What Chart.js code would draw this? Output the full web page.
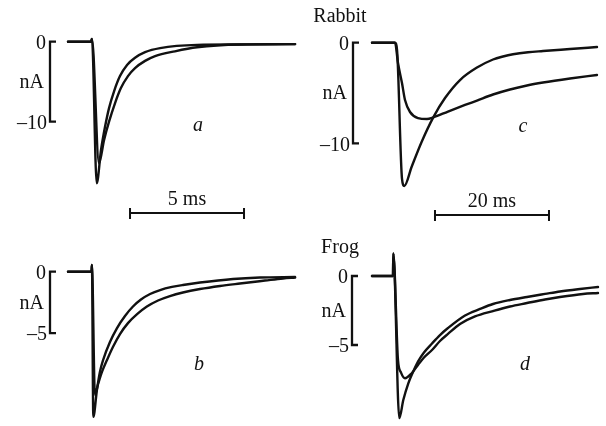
<!DOCTYPE html>
<html><head><meta charset="utf-8">
<script src="https://cdn.jsdelivr.net/npm/chart.js@4/dist/chart.umd.min.js"></script>
<style>
html,body{margin:0;padding:0;background:#fff;width:606px;height:426px;overflow:hidden}
canvas{position:absolute;left:0;top:0}
</style></head>
<body>
<canvas id="pa" width="606" height="426"></canvas>
<canvas id="pb" width="606" height="426"></canvas>
<canvas id="pc" width="606" height="426"></canvas>
<canvas id="pd" width="606" height="426"></canvas>
<script>
// ---- data (time in ms, current in nA) ----
const aFastT = [0, 1.01, 1.05, 1.26, 1.45, 1.62, 1.80, 2.02, 2.28, 2.59, 2.94, 3.38, 4.04, 5.66, 7.54, 9.96];
const aFastI = [0, 0, 0.34, -17.7, -13.5, -10.7, -8.3, -6.2, -4.3, -2.9, -2.0, -1.3, -0.8, -0.4, -0.35, -0.3];
const aSlowT = [0, 1.01, 1.05, 1.36, 1.58, 1.80, 2.06, 2.32, 2.63, 2.94, 3.38, 3.82, 4.69, 5.66, 7.54, 9.96];
const aSlowI = [0, 0, 0.34, -15.2, -12.3, -10.0, -7.7, -5.8, -4.3, -3.3, -2.4, -1.8, -1.2, -0.7, -0.35, -0.3];

const bFastT = [0, 1.03, 1.05, 1.11, 1.27, 1.40, 1.54, 1.84, 2.15, 2.50, 2.85, 3.20, 3.60, 4.04, 4.56, 5.04, 5.79, 7.24, 8.42, 9.96];
const bFastI = [0, 0, 0.55, -11.8, -9.6, -8.15, -7.18, -5.72, -4.58, -3.60, -2.83, -2.26, -1.81, -1.49, -1.24, -1.08, -0.88, -0.59, -0.47, -0.43];
const bSlowT = [0, 1.03, 1.05, 1.18, 1.32, 1.49, 1.71, 1.97, 2.28, 2.63, 3.03, 3.46, 3.95, 4.47, 5.04, 5.79, 6.67, 7.54, 8.64, 9.43, 9.96];
const bSlowI = [0, 0, 0.55, -10.0, -9.13, -8.15, -7.18, -6.12, -5.07, -4.18, -3.45, -2.83, -2.34, -1.98, -1.69, -1.41, -1.16, -0.96, -0.72, -0.55, -0.47];

const cFastT = [0, 4.04, 4.39, 5.26, 5.67, 6.96, 8.72, 10.75, 12.81, 15.44, 18.42, 21.23, 22.98, 24.74, 27.37, 30.0, 34.74, 39.47];
const cFastI = [0, 0, -0.7, -13.5, -14.24, -12.33, -9.84, -7.42, -5.50, -3.71, -2.47, -1.67, -1.37, -1.15, -0.95, -0.83, -0.63, -0.43];
const cSlowT = [0, 4.04, 4.56, 5.26, 5.79, 6.67, 8.07, 9.65, 10.75, 13.33, 16.32, 18.42, 21.23, 24.21, 27.19, 30.0, 34.74, 39.47];
const cSlowI = [0, 0, -2.02, -4.01, -5.70, -6.89, -7.49, -7.58, -7.42, -6.84, -6.19, -5.75, -5.15, -4.65, -4.25, -3.96, -3.56, -3.21];

const dFastT = [0, 3.68, 3.74, 4.79, 5.49, 6.37, 7.19, 8.07, 9.12, 10.53, 11.93, 13.33, 16.32, 18.95, 21.23, 24.21, 27.19, 30.35, 32.98, 36.49, 39.65];
const dFastI = [0, 0, 1.64, -10.3, -8.99, -7.78, -6.96, -6.20, -5.54, -4.89, -4.28, -3.77, -2.86, -2.39, -2.03, -1.74, -1.52, -1.30, -1.12, -0.94, -0.80];
const dSlowT = [0, 3.68, 3.74, 4.56, 5.09, 5.79, 6.96, 8.07, 9.12, 10.53, 11.93, 13.33, 15.44, 18.07, 21.23, 24.21, 27.19, 30.35, 32.98, 37.02, 39.65];
const dSlowI = [0, 0, 1.64, -6.1, -7.0, -7.41, -7.05, -6.45, -5.91, -5.36, -4.71, -4.20, -3.48, -2.93, -2.54, -2.21, -1.96, -1.70, -1.52, -1.30, -1.23];

// calibration bracket tick values and labels
const aTicks = [0, -10], aTickLabels = ['0', '\u201310'];
const bTicks = [0, -5],  bTickLabels = ['0', '\u20135'];
const cTicks = [0, -10], cTickLabels = ['0', '\u201310'];
const dTicks = [0, -5],  dTickLabels = ['0', '\u20135'];
const unitLabel = 'nA';
const panelLetters = ['a', 'b', 'c', 'd'];
const groupTitles = ['Rabbit', 'Frog'];
const scaleBarMs = [5, 20];
const scaleBarLabels = ['5 ms', '20 ms'];

// ---- layout ----
const W = 606, H = 426;
const FONT = '"Liberation Serif", "Times New Roman", serif';
function pts(T, I){ return T.map((t,i)=>({x:t, y:I[i]})); }

function makePanel(id, cfg){
  const left = cfg.x0 + cfg.xMin*cfg.pxMs, right = cfg.x0 + cfg.xMax*cfg.pxMs;
  const top = cfg.y0 - cfg.yMax*cfg.pxNA, bottom = cfg.y0 - cfg.yMin*cfg.pxNA;
  const ds = (d)=>({data:d, borderColor:'#111', borderWidth:2.4, pointRadius:0, fill:false,
                    cubicInterpolationMode:'monotone', clip:false, borderJoinStyle:'round', borderCapStyle:'round'});
  const deco = {
    id:'deco'+id,
    afterDraw(chart){
      const ctx = chart.ctx, xs = chart.scales.x, ys = chart.scales.y;
      ctx.save();
      ctx.strokeStyle = '#111'; ctx.fillStyle = '#111'; ctx.lineWidth = 2.3;
      const bx = cfg.bx;
      const yt = ys.getPixelForValue(cfg.ticks[0]), yb = ys.getPixelForValue(cfg.ticks[1]);
      ctx.beginPath();
      ctx.moveTo(bx+6, yt); ctx.lineTo(bx, yt); ctx.lineTo(bx, yb); ctx.lineTo(bx+6, yb);
      ctx.stroke();
      ctx.font = '20px ' + FONT;
      ctx.textAlign = 'right'; ctx.textBaseline = 'middle';
      ctx.fillText(cfg.tickLabels[0], bx-4, yt+2);
      ctx.fillText(unitLabel, bx-6, (yt+yb)/2+1);
      ctx.fillText(cfg.tickLabels[1], bx-3, yb+2);
      ctx.font = 'italic 20px ' + FONT;
      ctx.textAlign = 'center'; ctx.textBaseline = 'alphabetic';
      ctx.fillText(cfg.letter, cfg.letterX, cfg.letterY);
      if (cfg.title){
        ctx.font = '20px ' + FONT;
        ctx.fillText(cfg.title, cfg.titleX, cfg.titleY);
      }
      if (cfg.bar){
        const x1 = xs.getPixelForValue(cfg.bar.t0), x2 = xs.getPixelForValue(cfg.bar.t0 + cfg.bar.ms);
        const y = cfg.bar.y;
        ctx.lineWidth = 2;
        ctx.beginPath();
        ctx.moveTo(x1, y); ctx.lineTo(x2, y);
        ctx.moveTo(x1, y-5); ctx.lineTo(x1, y+6);
        ctx.moveTo(x2, y-5); ctx.lineTo(x2, y+6);
        ctx.stroke();
        ctx.font = '20px ' + FONT;
        ctx.textAlign = 'center';
        ctx.fillText(cfg.bar.label, (x1+x2)/2, y-8);
      }
      ctx.restore();
    }
  };
  return new Chart(document.getElementById(id), {
    type:'line',
    data:{datasets:[ds(pts(cfg.fT, cfg.fI)), ds(pts(cfg.sT, cfg.sI))]},
    options:{
      responsive:false, animation:false, devicePixelRatio:1, events:[],
      layout:{padding:{left:left, right:W-right, top:top, bottom:H-bottom}},
      plugins:{legend:{display:false}, tooltip:{enabled:false}, title:{display:false}},
      scales:{
        x:{type:'linear', min:cfg.xMin, max:cfg.xMax, display:false},
        y:{type:'linear', min:cfg.yMin, max:cfg.yMax, display:false}
      }
    },
    plugins:[deco]
  });
}

makePanel('pa', {fT:aFastT, fI:aFastI, sT:aSlowT, sI:aSlowI,
  x0:68, pxMs:22.8, xMin:0, xMax:10, y0:41.7, pxNA:8.0, yMin:-20, yMax:2,
  bx:50, ticks:aTicks, tickLabels:aTickLabels, letter:panelLetters[0], letterX:198, letterY:131,
  bar:{t0:2.72, ms:scaleBarMs[0], y:213, label:scaleBarLabels[0]}});
makePanel('pb', {fT:bFastT, fI:bFastI, sT:bSlowT, sI:bSlowI,
  x0:68, pxMs:22.8, xMin:0, xMax:10, y0:271.7, pxNA:12.3, yMin:-12.5, yMax:1,
  bx:50, ticks:bTicks, tickLabels:bTickLabels, letter:panelLetters[1], letterX:199, letterY:370});
makePanel('pc', {fT:cFastT, fI:cFastI, sT:cSlowT, sI:cSlowI,
  x0:372, pxMs:5.7, xMin:0, xMax:40, y0:42.7, pxNA:10.06, yMin:-15, yMax:2,
  bx:353, ticks:cTicks, tickLabels:cTickLabels, letter:panelLetters[2], letterX:523, letterY:132,
  title:groupTitles[0], titleX:340, titleY:22,
  bar:{t0:11.05, ms:scaleBarMs[1], y:215, label:scaleBarLabels[1]}});
makePanel('pd', {fT:dFastT, fI:dFastI, sT:dSlowT, sI:dSlowI,
  x0:372, pxMs:5.7, xMin:0, xMax:40, y0:276, pxNA:13.8, yMin:-10.8, yMax:2,
  bx:352, ticks:dTicks, tickLabels:dTickLabels, letter:panelLetters[3], letterX:525, letterY:370,
  title:groupTitles[1], titleX:340, titleY:253});
</script>
</body></html>
